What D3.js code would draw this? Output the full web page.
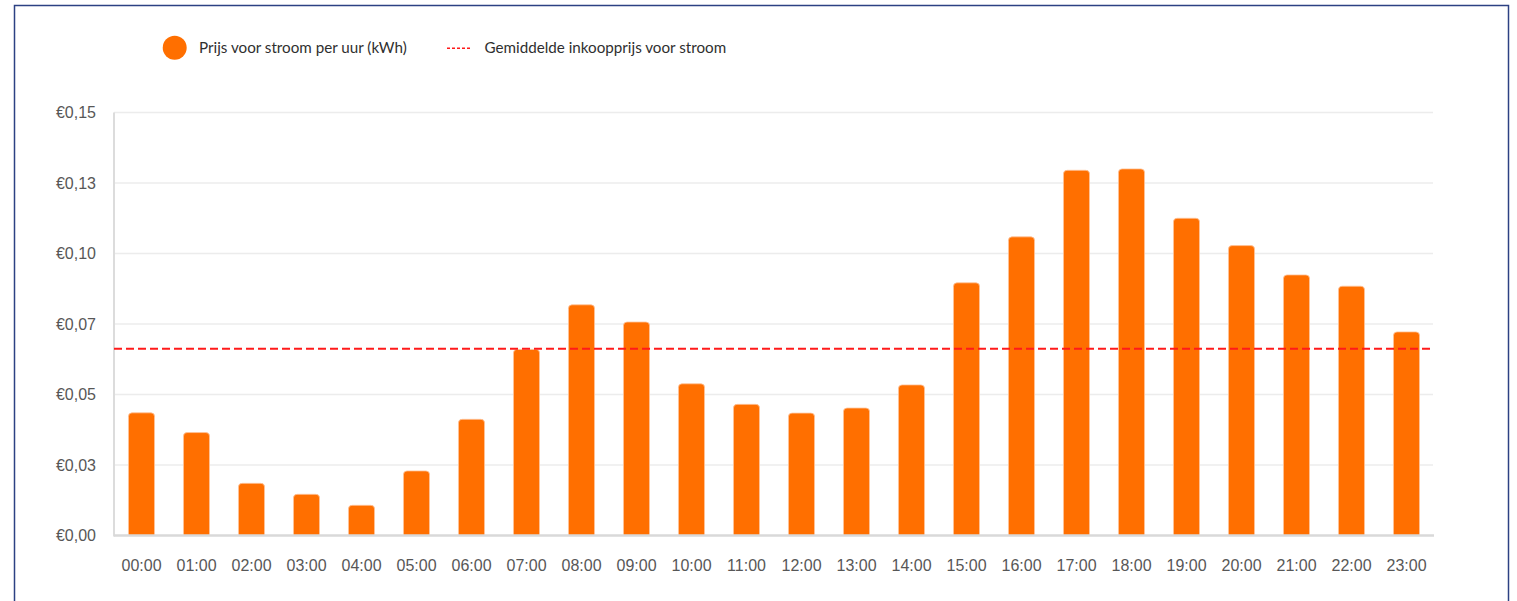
<!DOCTYPE html>
<html>
<head>
<meta charset="utf-8">
<script src="https://cdn.jsdelivr.net/npm/d3@7"></script>
<style>
  html, body { margin: 0; padding: 0; background: #fff; }
  svg { display: block; }
</style>
</head>
<body>
<svg id="chart" width="1517" height="601"></svg>
<script>
// ---- data ----
const hours = ["00:00","01:00","02:00","03:00","04:00","05:00","06:00","07:00","08:00","09:00","10:00","11:00",
               "12:00","13:00","14:00","15:00","16:00","17:00","18:00","19:00","20:00","21:00","22:00","23:00"];
const prices = [0.0435,0.0365,0.0185,0.0146,0.0107,0.0229,0.0412,0.0660,0.0818,0.0757,0.0538,0.0465,
                0.0434,0.0452,0.0534,0.0896,0.1059,0.1295,0.1300,0.1125,0.1028,0.0924,0.0884,0.0722];
const averagePrice = 0.0662;
const yTickValues = [0, 0.025, 0.05, 0.075, 0.1, 0.125, 0.15];
const yTickLabels = ["€0,00","€0,03","€0,05","€0,07","€0,10","€0,13","€0,15"];
const legendLabels = ["Prijs voor stroom per uur (kWh)", "Gemiddelde inkoopprijs voor stroom"];

(function () {
// ---- layout ----
const svg = d3.select("#chart");
const pLeft = 114, pRight = 1434, pTop = 112.5, pBottom = 535.5;
const orange = "#ff6f00";

// outer border
svg.append("rect")
  .attr("x", 14.5).attr("y", 5.5).attr("width", 1494).attr("height", 640)
  .attr("fill", "none").attr("stroke", "#2c4183").attr("stroke-width", 1.5);

const x = d3.scaleBand().domain(hours).range([pLeft, pRight]).paddingInner(0.527).paddingOuter(0.2635);
const y = d3.scaleLinear().domain([0, 0.15]).range([pBottom, pTop]);

// gridlines
svg.append("g").selectAll("line").data(yTickValues.slice(1)).join("line")
  .attr("x1", pLeft).attr("x2", pRight - 1)
  .attr("y1", d => y(d)).attr("y2", d => y(d))
  .attr("stroke", "#ececec").attr("stroke-width", 1.5);

// y axis labels
const yAxis = d3.axisLeft(y).tickValues(yTickValues).tickSize(0).tickPadding(18)
  .tickFormat((d, i) => yTickLabels[i]);
const gy = svg.append("g").attr("transform", `translate(${pLeft},0)`).call(yAxis);
gy.select(".domain").remove();
gy.selectAll("text").attr("font-family", "'Liberation Sans', Arial, sans-serif")
  .attr("font-size", 16).attr("fill", "#575757");

// bars with rounded top
const r = 3.5;
svg.append("g").selectAll("path").data(prices).join("path")
  .attr("d", (d, i) => {
    const x0 = x(hours[i]), w = x.bandwidth(), yt = y(d), yb = y(0);
    return `M${x0},${yb} L${x0},${yt + r} Q${x0},${yt} ${x0 + r},${yt} L${x0 + w - r},${yt} Q${x0 + w},${yt} ${x0 + w},${yt + r} L${x0 + w},${yb} Z`;
  })
  .attr("fill", orange)
  .attr("stroke", "#ffc49a").attr("stroke-width", 0.8);

// left axis line and baseline
svg.append("line").attr("x1", pLeft).attr("x2", pLeft).attr("y1", pTop).attr("y2", pBottom + 1)
  .attr("stroke", "#dcdcdc").attr("stroke-width", 2);

const xAxis = d3.axisBottom(x).tickSize(0).tickPadding(24);
const gx = svg.append("g").attr("transform", `translate(0,${pBottom})`).call(xAxis);
gx.select(".domain").attr("stroke", "#d9d9d9").attr("stroke-width", 2.5)
  .attr("d", `M${pLeft},0H${pRight}`);
gx.selectAll("text").attr("font-family", "'Liberation Sans', Arial, sans-serif")
  .attr("font-size", 16).attr("fill", "#575757");

// average line
svg.append("line")
  .attr("x1", pLeft).attr("x2", pRight)
  .attr("y1", y(averagePrice)).attr("y2", y(averagePrice))
  .attr("stroke", "#ff1a1a").attr("stroke-width", 2).attr("stroke-dasharray", "8,4");

// legend
const lg = svg.append("g");
lg.append("circle").attr("cx", 174.7).attr("cy", 47.8).attr("r", 12).attr("fill", orange);
lg.append("text").attr("x", 199).attr("y", 53).text(legendLabels[0])
  .attr("font-family", "Lato, sans-serif").attr("font-size", 15.2).attr("fill", "#2f2f2f");
lg.append("line").attr("x1", 447).attr("x2", 472).attr("y1", 48.3).attr("y2", 48.3)
  .attr("stroke", "#ff1a1a").attr("stroke-width", 1.5).attr("stroke-dasharray", "3,2");
lg.append("text").attr("x", 484.5).attr("y", 53).text(legendLabels[1])
  .attr("font-family", "Lato, sans-serif").attr("font-size", 15.2).attr("fill", "#2f2f2f");
})();
</script>
</body>
</html>
